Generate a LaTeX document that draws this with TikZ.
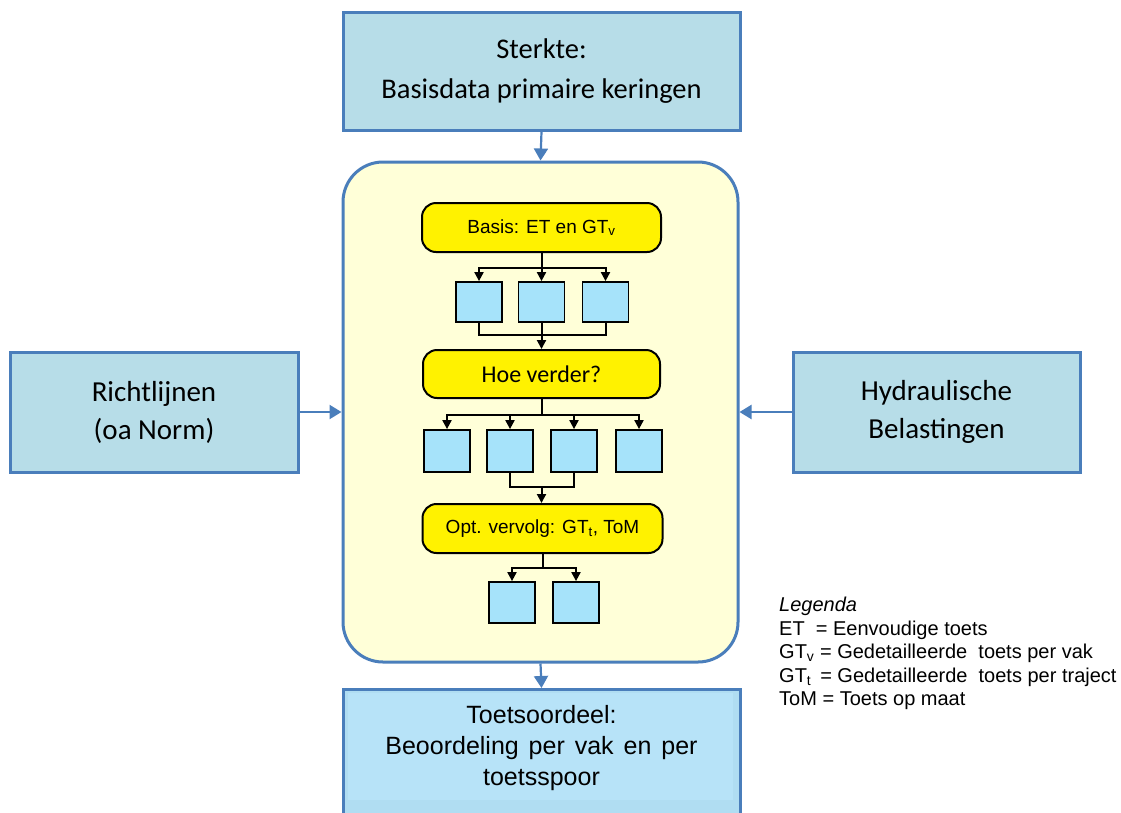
\documentclass[tikz,border=0pt]{standalone}
\usepackage{fontspec}
\setmainfont{Liberation Sans}
\newfontfamily\calfont{Carlito}
\usetikzlibrary{arrows.meta}
\definecolor{outerblue}{HTML}{4A7EBB}
\definecolor{boxteal}{HTML}{B7DDE8}
\definecolor{boxsky}{HTML}{B0DDF2}
\definecolor{boxskylight}{HTML}{B7E3F8}
\definecolor{paleyellow}{HTML}{FFFFD8}
\definecolor{cellblue}{HTML}{A6E3FA}
\tikzset{
  x=1pt, y=-1pt,
  bigbox/.style={draw=outerblue, line width=3pt, fill=boxteal, inner sep=0pt, align=center},
  stepstage/.style={draw=black, line width=2pt, fill=yellow, rounded corners=14pt, inner sep=0pt, align=center},
  cell/.style={draw=black, line width=1.8pt, fill=cellblue, inner sep=0pt},
  bluearrow/.style={draw=outerblue, line width=2.2pt, -{Triangle[width=14pt,length=12pt]}},
  iline/.style={draw=black, line width=2pt},
  iarrow/.style={iline, -{Triangle[width=9pt,length=9pt]}},
}
\begin{document}
\begin{tikzpicture}
\useasboundingbox (0,0) rectangle (1121,812);
\fill[white] (0,0) rectangle (1121,812);

% outer frame: inputs, procedure and result
\node[bigbox, minimum width=397, minimum height=118, font=\calfont\fontsize{28.5}{40}\selectfont]
  (sterkte) at (541.5,71) {Sterkte:\\Basisdata primaire keringen};
\node[draw=outerblue, line width=3pt, fill=paleyellow, rounded corners=40pt,
  minimum width=395, minimum height=500, inner sep=0pt] (proc) at (540.5,412) {};
\node[bigbox, minimum width=288, minimum height=120, font=\calfont\fontsize{29}{38}\selectfont]
  (richt) at (154,412) {Richtlijnen\\(oa Norm)};
\node[bigbox, minimum width=287, minimum height=120, font=\calfont\fontsize{29}{38}\selectfont]
  (hydr) at (936.5,412) {Hydraulische\\Belastingen};
\node[bigbox, fill=boxsky, minimum width=397, minimum height=150, anchor=north] (oordeel) at (541.5,688) {};
\fill[boxskylight] (348,693) rectangle (733,800);
\node[font=\fontsize{25}{31}\selectfont, align=center, anchor=north, inner sep=0pt] (oordeeltxt) at (541.5,705)
  {Toetsoordeel:\\Beoordeling\hspace{3pt} per\hspace{3pt} vak\hspace{3pt} en\hspace{3pt} per\\toetsspoor};

\draw[bluearrow] (sterkte.south) -- (proc.north);
\draw[bluearrow] (richt.east) -- (proc.west);
\draw[bluearrow] (hydr.west) -- (proc.east);
\draw[bluearrow] (proc.south) -- (oordeel.north);

% stage 1
\node[stepstage, minimum width=239, minimum height=49, font=\fontsize{19}{22}\selectfont]
  (basis) at (541.5,227.5) {Basis: ET en GT\textsubscript{v}};
\node[cell, minimum width=46, minimum height=40] (a1) at (479,302) {};
\node[cell, minimum width=46, minimum height=40] (a2) at (541.5,302) {};
\node[cell, minimum width=46, minimum height=40] (a3) at (605.5,302) {};
% stage 2
\node[stepstage, minimum width=237, minimum height=48, font=\calfont\fontsize{24}{28}\selectfont]
  (hoe) at (541.5,374) {Hoe verder?};
\node[cell, minimum width=46, minimum height=42] (b1) at (447,451) {};
\node[cell, minimum width=46, minimum height=42] (b2) at (510,451) {};
\node[cell, minimum width=46, minimum height=42] (b3) at (574,451) {};
\node[cell, minimum width=46, minimum height=42] (b4) at (639,451) {};
% stage 3
\node[stepstage, minimum width=240, minimum height=49, font=\fontsize{19}{22}\selectfont]
  (opt) at (542.5,528.5) {Opt. vervolg: GT\textsubscript{t}, ToM};
\node[cell, minimum width=46, minimum height=41] (c1) at (512,602.5) {};
\node[cell, minimum width=46, minimum height=41] (c2) at (576,602.5) {};

% connectors of stage 1
\coordinate (s1) at (541.5,268);
\draw[iline] (basis.south) -- (s1);
\draw[iarrow] (s1) -| (a1.north);
\draw[iarrow] (s1) -- (a2.north);
\draw[iarrow] (s1) -| (a3.north);
\coordinate (m1) at (541.5,335);
\draw[iline] (a1.south) |- (m1) -| (a3.south);
\draw[iarrow] (a2.south) -- (hoe.north);
% connectors of stage 2
\coordinate (s2) at (541.5,415);
\draw[iline] (hoe.south) -- (s2);
\draw[iarrow] (s2) -| (b1.north);
\draw[iarrow] (s2) -| (b2.north);
\draw[iarrow] (s2) -| (b3.north);
\draw[iarrow] (s2) -| (b4.north);
\coordinate (m2) at (541.5,487);
\draw[iline] (b2.south) |- (m2) -| (b3.south);
\draw[iarrow] (m2) -- (m2 |- opt.north);
% connectors of stage 3
\coordinate (s3) at (542.5,568);
\draw[iline] (opt.south) -- (s3);
\draw[iarrow] (s3) -| (c1.north);
\draw[iarrow] (s3) -| (c2.north);

% legend
\node[anchor=north west, align=left, inner sep=0pt, font=\fontsize{20}{23.5}\selectfont]
  (legend) at (779,597)
  {\textit{Legenda}\\
   ET \ = Eenvoudige toets\\
   GT\textsubscript{v} = Gedetailleerde \ toets per vak\\
   GT\textsubscript{t} \,= Gedetailleerde \ toets per traject\\
   ToM = Toets op maat};
\end{tikzpicture}
\end{document}
